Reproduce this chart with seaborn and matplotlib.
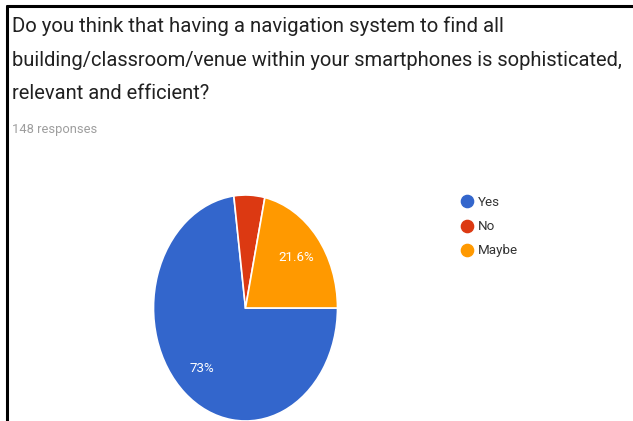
import matplotlib
matplotlib.use("Agg")
import matplotlib.pyplot as plt
from matplotlib.lines import Line2D
import seaborn as sns

# ---- data ----
title_lines = [
    "Do you think that having a navigation system to find all",
    "building/classroom/venue within your smartphones is sophisticated,",
    "relevant and efficient?",
]
subtitle = "148 responses"
categories = ["Yes", "No", "Maybe"]
counts = [108, 8, 32]
colors = ["#3366cc", "#dc3912", "#ff9900"]

sns.set_theme(style="white")
plt.rcParams["font.family"] = ["Roboto", "DejaVu Sans"]

W, H = 633, 421
fig = plt.figure(figsize=(W / 100, H / 100), dpi=100)
fig.patch.set_facecolor("white")
renderer = fig.canvas.get_renderer()

def fit_text(x, y_base, s, target_w, color, base=14):
    t = fig.text(x / W, 1 - y_base / H, s, fontsize=base, color=color,
                 va="baseline", ha="left")
    w = t.get_window_extent(renderer).width
    t.set_fontsize(base * target_w / w)
    return t

fit_text(12, 32, title_lines[0], 495, "#212121")
t2 = fit_text(12, 65.5, title_lines[1], 617, "#212121")
t3 = fig.text(12 / W, 1 - 99 / H, title_lines[2], fontsize=t2.get_fontsize(),
              color="#212121", va="baseline", ha="left")
fit_text(12, 133, subtitle, 85, "#9e9e9e")

# borders
fig.add_artist(Line2D([7.5 / W, 1], [1 - 6 / H, 1 - 6 / H], color="black",
                      lw=2.2, transform=fig.transFigure))
fig.add_artist(Line2D([7.5 / W, 7.5 / W], [1 - 6 / H, 0], color="black",
                      lw=2.2, transform=fig.transFigure))

# pie (elliptical, as in the stretched screenshot)
cx, cy, a, b = 245.5, 308, 92, 113
ax = fig.add_axes([(cx - a) / W, (H - cy - b) / H, 2 * a / W, 2 * b / H])

def fmt(p):
    if p < 10:
        return ""
    s = f"{p:.1f}".rstrip("0").rstrip(".")
    return s + "%"

wedges, texts, autotexts = ax.pie(
    counts, colors=colors, startangle=0, counterclock=False,
    autopct=fmt, pctdistance=0.71,
    wedgeprops=dict(edgecolor="white", linewidth=1.2),
    textprops=dict(color="white", fontsize=9.6),
)
ax.set_aspect("auto")
ax.set_xlim(-1, 1)
ax.set_ylim(-1, 1)
ax.axis("off")

# legend
handles = [Line2D([0], [0], marker="o", color="none", markerfacecolor=c,
                  markeredgecolor=c, markersize=8.8) for c in colors]
leg = fig.legend(handles, categories, loc="upper left",
                 bbox_to_anchor=(461 / W, 1 - 196 / H), frameon=False,
                 fontsize=9.6, handlelength=0.9, handletextpad=0.35,
                 labelspacing=0.84, borderpad=0, borderaxespad=0)
for t in leg.get_texts():
    t.set_color("#333333")

fig.savefig("out.png", dpi=100, facecolor="white")
